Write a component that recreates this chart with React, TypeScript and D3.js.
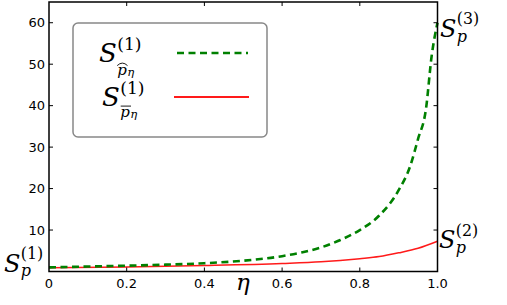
import React from "react";
import * as d3 from "d3";

// values
const etaHat = [0, 0.1, 0.2, 0.3, 0.4, 0.5, 0.6, 0.65, 0.7, 0.75, 0.8, 0.85, 0.9, 0.93, 0.95, 0.97, 0.985, 1.0];
const sHat = [1.0, 1.2, 1.4, 1.65, 2.0, 2.6, 3.7, 4.6, 5.8, 7.6, 10.0, 13.5, 19.6, 25.5, 32, 39, 52, 60];
const etaBar = [0, 0.2, 0.4, 0.6, 0.7, 0.8, 0.85, 0.9, 0.95, 1.0];
const sBar = [0.9, 1.1, 1.45, 1.95, 2.35, 3.1, 3.6, 4.5, 5.6, 7.3];

const xTicks = [0, 0.2, 0.4, 0.6, 0.8, 1.0];
const xTickLabels = ["0", "0.2", "0.4", "0.6", "0.8", "1.0"];
const yTicks = [10, 20, 30, 40, 50, 60];

const W = 507;
const H = 305;
const margin = { top: 2, right: 69.5, bottom: 33.5, left: 49 };

const serif = "'DejaVu Serif', serif";
const sans = "'DejaVu Sans', sans-serif";

// S with a superscript and a subscript stacked at the same x
const SLabel = ({ x, y, size, sup, supDy, subDy, subSize, accent = "" }) => {
  const sx = x + size * 0.7;
  const supSize = size * 0.66;
  const pw = subSize * 0.62;
  const pTop = y + subDy - subSize * 0.56;
  return (
    <g>
      <text x={x} y={y} fontFamily={serif}>
        <tspan fontSize={size} fontStyle="italic">S</tspan>
        <tspan x={sx} dy={supDy} fontSize={supSize}>
          {sup}
        </tspan>
        <tspan x={sx} dy={subDy - supDy} fontSize={subSize} fontStyle="italic">
          p
        </tspan>
        {accent && (
          <tspan dx={0.5} dy={1} fontSize={subSize * 0.78} fontStyle="italic">
            η
          </tspan>
        )}
      </text>
      {accent === "hat" && (
        <path
          d={`M${sx},${pTop - 1} Q${sx + pw / 2 + 0.5},${pTop - 6} ${sx + pw + 1},${pTop - 1}`}
          fill="none"
          stroke="#000"
          strokeWidth={0.9}
        />
      )}
      {accent === "bar" && (
        <line
          x1={sx + 0.5}
          x2={sx + pw + 1.5}
          y1={pTop - 2.5}
          y2={pTop - 2.5}
          stroke="#000"
          strokeWidth={0.9}
        />
      )}
    </g>
  );
};

const App = () => {
  const x = d3.scaleLinear().domain([0, 1]).range([margin.left, W - margin.right]);
  const y = d3.scaleLinear().domain([0, 65]).range([H - margin.bottom, margin.top]);

  const curve = d3.line<[number, number]>().curve(d3.curveMonotoneX);
  const hatPath = curve(etaHat.map((e, i) => [x(e), y(sHat[i])]));
  const barPath = curve(etaBar.map((e, i) => [x(e), y(sBar[i])]));

  const x0 = x(0), x1 = x(1), y0 = y(0), yTop = y(65);
  const tl = 4;

  return (
    <svg
      width={W}
      height={H}
      style={{ position: "absolute", left: 0, top: 0, background: "#fff" }}
    >
      <rect x={0} y={0} width={W} height={H} fill="#fff" />
      {/* curves */}
      <path d={barPath || ""} fill="none" stroke="#ff1a1a" strokeWidth={1.5} />
      <path
        d={hatPath || ""}
        fill="none"
        stroke="#008000"
        strokeWidth={2.6}
        strokeDasharray="7,4.5"
      />

      {/* frame */}
      <rect
        x={x0}
        y={yTop}
        width={x1 - x0}
        height={y0 - yTop}
        fill="none"
        stroke="#000"
        strokeWidth={1.5}
      />

      {/* ticks, inward on all sides */}
      {xTicks.slice(1, -1).map((t) => (
        <g key={"xt" + t} stroke="#000" strokeWidth={1}>
          <line x1={x(t)} x2={x(t)} y1={y0} y2={y0 - tl} />
          <line x1={x(t)} x2={x(t)} y1={yTop} y2={yTop + tl} />
        </g>
      ))}
      {yTicks.map((t) => (
        <g key={"yt" + t} stroke="#000" strokeWidth={1}>
          <line x1={x0} x2={x0 + tl} y1={y(t)} y2={y(t)} />
          <line x1={x1} x2={x1 - tl} y1={y(t)} y2={y(t)} />
        </g>
      ))}

      {/* tick labels */}
      {xTicks.map((t, i) => (
        <text
          key={"xl" + t}
          x={x(t)}
          y={288}
          textAnchor="middle"
          fontFamily={sans}
          fontSize={13}
        >
          {xTickLabels[i]}
        </text>
      ))}
      {yTicks.map((t) => (
        <text
          key={"yl" + t}
          x={45}
          y={y(t) + 4.5}
          textAnchor="end"
          fontFamily={sans}
          fontSize={13}
        >
          {t}
        </text>
      ))}

      {/* axis label */}
      <text x={236} y={290} fontFamily={serif} fontStyle="italic" fontSize={23}>
        η
      </text>

      {/* end labels */}
      <SLabel x={4} y={272} size={24} sup="(1)" supDy={-13} subDy={4} subSize={16} />
      <SLabel x={440} y={37} size={24} sup="(3)" supDy={-13} subDy={5} subSize={16} />
      <SLabel x={439} y={248} size={24} sup="(2)" supDy={-12} subDy={5} subSize={16} />

      {/* legend */}
      <rect
        x={73}
        y={23}
        width={194}
        height={114}
        rx={5}
        fill="#fff"
        stroke="#888"
        strokeWidth={1.5}
      />
      <SLabel x={99} y={62} size={26} sup="(1)" supDy={-12} subDy={13} subSize={15} accent="hat" />
      <SLabel x={102} y={106} size={26} sup="(1)" supDy={-12} subDy={11} subSize={15} accent="bar" />

      <line
        x1={177}
        x2={248}
        y1={53}
        y2={53}
        stroke="#008000"
        strokeWidth={2.6}
        strokeDasharray="7,4.5"
      />
      <line x1={174} x2={249} y1={97} y2={97} stroke="#ff1a1a" strokeWidth={1.8} />
    </svg>
  );
};

export default App;
